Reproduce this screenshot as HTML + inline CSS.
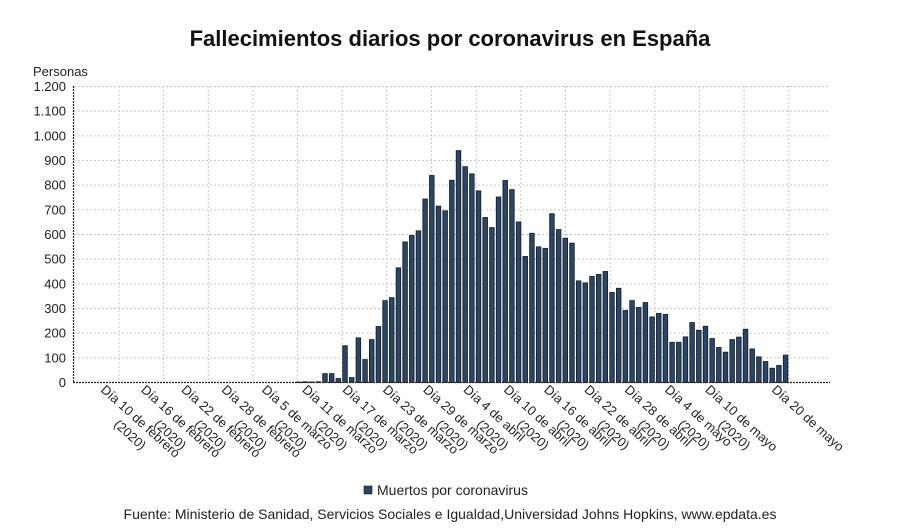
<!DOCTYPE html>
<html><head><meta charset="utf-8"><style>
body{margin:0;background:#fff;}
svg{display:block;font-family:"Liberation Sans","DejaVu Sans",sans-serif;}
</style></head><body>
<svg width="900" height="528" viewBox="0 0 900 528" xmlns="http://www.w3.org/2000/svg">
<text x="450" y="46" text-anchor="middle" font-size="22" font-weight="bold" fill="#111">Fallecimientos diarios por coronavirus en España</text>
<text x="33" y="76" font-size="13" fill="#222">Personas</text>
<g id="grid" stroke="#c8c8c8" stroke-width="1" stroke-dasharray="2,2"></g>
<g id="ylab" font-size="13" fill="#222" text-anchor="end"></g>
<g id="bars" fill="#2c4560" stroke="#111a2e" stroke-width="0.8"></g>
<line x1="73.5" y1="86" x2="73.5" y2="383" stroke="#222" stroke-width="1.2" stroke-dasharray="2,1"/>
<line x1="73" y1="382.5" x2="830" y2="382.5" stroke="#222" stroke-width="1.2" stroke-dasharray="2,1"/>
<g id="xlab" font-size="13" fill="#222"></g>
<rect x="364" y="486" width="8" height="8" fill="#2c4560" stroke="#111a2e" stroke-width="0.6"/>
<text x="377" y="495" font-size="14" fill="#222">Muertos por coronavirus</text>
<text x="450" y="519" text-anchor="middle" font-size="14" fill="#222">Fuente: Ministerio de Sanidad, Servicios Sociales e Igualdad,Universidad Johns Hopkins, www.epdata.es</text>
</svg>
<script>
const NS="http://www.w3.org/2000/svg";
function el(t,a,p,txt){const e=document.createElementNS(NS,t);for(const k in a)e.setAttribute(k,a[k]);if(txt!==undefined)e.textContent=txt;document.getElementById(p).appendChild(e);return e;}
const y0=382.5,sc=296/1200;
for(let v=100;v<=1200;v+=100){const y=y0-v*sc;el('line',{x1:74,x2:830,y1:y,y2:y},'grid');}
for(let i=0;i<=16;i++){const x=119+44.65*i;if(x>831)break;el('line',{x1:x,x2:x,y1:86,y2:382},'grid');}
for(let v=0;v<=1200;v+=100){const y=y0-v*sc+4.5;let s=v>=1000?(Math.floor(v/1000)+"."+String(v%1000).padStart(3,'0')):String(v);el('text',{x:66,y:y},'ylab',s);}
const vals=[2,3,2,3,36,36,16,149,20,181,93,174,227,332,344,465,570,596,615,744,839,715,696,820,940,875,846,777,669,628,752,819,782,651,511,605,550,544,684,620,585,565,
412,404,430,438,450,365,382,292,332,304,324,266,280,276,163,163,185,243,212,228,178,142,123,174,184,216,136,104,85,58,69,111];
vals.forEach((v,i)=>{const cx=298.3+6.675*i;const h=v*sc;el('rect',{x:cx-2.3,y:y0-h,width:4.6,height:h},'bars');});
const labs=["Día 10 de febrero","Día 16 de febrero","Día 22 de febrero","Día 28 de febrero","Día 5 de marzo","Día 11 de marzo","Día 17 de marzo","Día 23 de marzo","Día 29 de marzo","Día 4 de abril","Día 10 de abril","Día 16 de abril","Día 22 de abril","Día 28 de abril","Día 4 de mayo","Día 10 de mayo"];
labs.forEach((l,i)=>{const x=106+40.3*i,y=384;const t=el('text',{transform:`translate(${x},${y}) rotate(42)`,y:9},'xlab');
const a=document.createElementNS(NS,'tspan');a.setAttribute('x',0);a.textContent=l;t.appendChild(a);
const b=document.createElementNS(NS,'tspan');b.setAttribute('x',33);b.setAttribute('dy',17);b.textContent="(2020)";t.appendChild(b);});
el('text',{transform:`translate(777,384) rotate(42)`,y:9},'xlab',"Día 20 de mayo");
</script>
</body></html>
